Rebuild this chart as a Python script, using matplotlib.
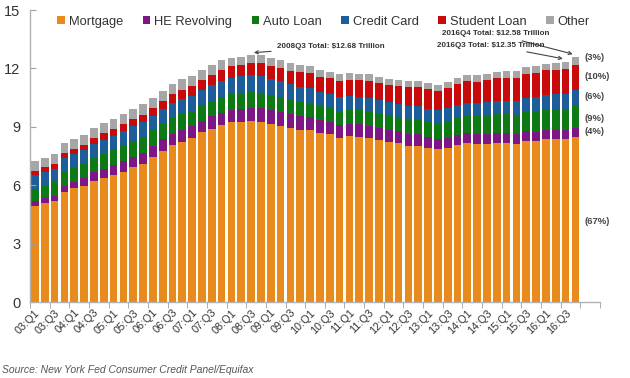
import matplotlib
matplotlib.use("Agg")
import matplotlib.pyplot as plt
import numpy as np
from matplotlib.patches import Patch

plt.rcParams["font.family"] = ["Liberation Sans", "DejaVu Sans"]

# quarters 2003Q1 .. 2016Q4, trillions of dollars
years = list(range(2003, 2017))
quarters = [f"{y % 100:02d}:Q{q}" for y in years for q in range(1, 5)]

mortgage = [4.94, 5.08, 5.18, 5.66, 5.84, 5.97, 6.21, 6.36, 6.51, 6.70, 6.91, 7.10,
            7.44, 7.76, 8.04, 8.23, 8.42, 8.71, 8.91, 9.10, 9.23, 9.27, 9.29, 9.26,
            9.14, 9.06, 8.94, 8.84, 8.83, 8.70, 8.61, 8.45, 8.52, 8.50, 8.43, 8.33,
            8.24, 8.16, 8.03, 8.03, 7.93, 7.84, 7.90, 8.05, 8.17, 8.10, 8.13, 8.17,
            8.17, 8.12, 8.26, 8.25, 8.37, 8.36, 8.35, 8.48]
he_revolving = [0.24, 0.26, 0.29, 0.32, 0.35, 0.40, 0.45, 0.48, 0.53, 0.54, 0.56, 0.57,
                0.58, 0.59, 0.60, 0.60, 0.61, 0.61, 0.62, 0.63, 0.64, 0.67, 0.69, 0.71,
                0.71, 0.71, 0.70, 0.69, 0.68, 0.67, 0.66, 0.65, 0.64, 0.63, 0.63, 0.62,
                0.61, 0.60, 0.59, 0.58, 0.56, 0.55, 0.54, 0.53, 0.53, 0.52, 0.52, 0.51,
                0.51, 0.50, 0.50, 0.49, 0.49, 0.48, 0.47, 0.47]
auto_loan = [0.64, 0.64, 0.68, 0.70, 0.72, 0.74, 0.75, 0.77, 0.78, 0.80, 0.82, 0.82,
             0.79, 0.80, 0.82, 0.82, 0.80, 0.81, 0.82, 0.82, 0.81, 0.81, 0.81, 0.79,
             0.78, 0.76, 0.75, 0.74, 0.71, 0.70, 0.71, 0.71, 0.71, 0.72, 0.73, 0.73,
             0.74, 0.75, 0.77, 0.78, 0.79, 0.81, 0.84, 0.86, 0.88, 0.91, 0.93, 0.96,
             0.97, 1.00, 1.03, 1.06, 1.07, 1.10, 1.11, 1.14]
credit_card = [0.69, 0.69, 0.69, 0.72, 0.69, 0.70, 0.70, 0.72, 0.71, 0.72, 0.73, 0.74,
               0.72, 0.74, 0.75, 0.77, 0.76, 0.78, 0.80, 0.82, 0.84, 0.85, 0.86, 0.87,
               0.84, 0.82, 0.81, 0.80, 0.76, 0.74, 0.73, 0.73, 0.70, 0.69, 0.70, 0.70,
               0.68, 0.67, 0.67, 0.68, 0.66, 0.67, 0.67, 0.68, 0.66, 0.67, 0.68, 0.70,
               0.68, 0.70, 0.71, 0.73, 0.71, 0.73, 0.75, 0.78]
student_loan = [0.24, 0.24, 0.25, 0.25, 0.26, 0.26, 0.33, 0.35, 0.36, 0.37, 0.38, 0.39,
                0.43, 0.44, 0.45, 0.48, 0.51, 0.51, 0.53, 0.55, 0.58, 0.58, 0.61, 0.64,
                0.66, 0.68, 0.69, 0.72, 0.76, 0.76, 0.78, 0.81, 0.84, 0.85, 0.87, 0.87,
                0.90, 0.91, 0.96, 0.97, 0.99, 0.99, 1.03, 1.08, 1.11, 1.12, 1.13, 1.16,
                1.19, 1.19, 1.20, 1.23, 1.26, 1.26, 1.28, 1.31]
other = [0.48, 0.49, 0.49, 0.51, 0.50, 0.51, 0.52, 0.53, 0.52, 0.52, 0.53, 0.54,
         0.52, 0.53, 0.54, 0.54, 0.50, 0.51, 0.51, 0.52, 0.42, 0.42, 0.42, 0.42,
         0.42, 0.41, 0.41, 0.40, 0.37, 0.36, 0.35, 0.35, 0.33, 0.33, 0.33, 0.33,
         0.31, 0.31, 0.32, 0.32, 0.31, 0.31, 0.32, 0.33, 0.32, 0.34, 0.33, 0.34,
         0.33, 0.34, 0.36, 0.36, 0.35, 0.37, 0.39, 0.40]

series = [
    ("Mortgage", mortgage, "#E98A1C"),
    ("HE Revolving", he_revolving, "#7E1786"),
    ("Auto Loan", auto_loan, "#0E7A16"),
    ("Credit Card", credit_card, "#1D5E9A"),
    ("Student Loan", student_loan, "#C80A0A"),
    ("Other", other, "#A6A6A6"),
]

# y position (in trillions) of the share labels on the right
share_y = [4.16, 8.78, 9.45, 10.58, 11.56, 12.58]

GRAY = "#A0A0A0"
INK = "#333333"

fig = plt.figure(figsize=(6.3, 3.78), dpi=100)
ax = fig.add_axes([30 / 630, 1 - 302 / 378, 570 / 630, 292 / 378])

x = np.arange(len(quarters))
bottom = np.zeros(len(quarters))
for name, vals, col in series:
    vals = np.array(vals)
    ax.bar(x, vals, width=0.78, bottom=bottom, color=col, linewidth=0)
    bottom += vals
total = bottom

ax.set_xlim(-0.5, len(quarters) + 1.5)
ax.set_ylim(0, 15)
ax.set_yticks([0, 3, 6, 9, 12, 15])
ax.tick_params(axis="y", direction="in", length=4, color=GRAY, labelsize=10.5,
               labelcolor=INK, pad=7)
ax.set_xticks(x[::2])
ax.set_xticklabels(quarters[::2], rotation=45, ha="right", va="top",
                   rotation_mode="anchor", fontsize=7.8, color=INK)
ax.tick_params(axis="x", length=0, pad=4)
ax.set_xticks(np.arange(-0.5, len(quarters) + 2, 2), minor=True)
ax.tick_params(axis="x", which="minor", length=4, color=GRAY, direction="out")
for s in ("top", "right"):
    ax.spines[s].set_visible(False)
for s in ("left", "bottom"):
    ax.spines[s].set_color("#B0B0B0")
    ax.spines[s].set_linewidth(1.0)

# legend
handles = [Patch(facecolor=c, edgecolor="none") for _, _, c in series]
ax.legend(handles, [n for n, _, _ in series], loc="upper center", ncol=6,
          bbox_to_anchor=(0.515, 1.02), frameon=False, fontsize=9.3,
          handlelength=0.6, handleheight=0.6, handletextpad=0.3,
          columnspacing=1.5, labelcolor=INK)

# total annotations
ann = dict(fontsize=5.8, fontweight="bold", color=INK, va="center",
           arrowprops=dict(arrowstyle="->", color="#444444", lw=0.8))
i08 = quarters.index("08:Q3")
ax.annotate(f"2008Q3 Total: ${total[i08]:.2f} Trillion", xy=(i08, total[i08] + 0.12),
            xytext=(i08 + 2.6, 13.1), ha="left", **ann)
n = len(quarters)
ax.annotate(f"2016Q4 Total: ${total[n - 1]:.2f} Trillion", xy=(n - 1, total[n - 1] + 0.12),
            xytext=(n - 3.7, 13.77), ha="right", **ann)
ax.annotate(f"2016Q3 Total: ${total[n - 2]:.2f} Trillion", xy=(n - 2, total[n - 2] + 0.12),
            xytext=(n - 4.1, 13.2), ha="right", **ann)

# shares of the latest quarter
for (name, vals, col), yy in zip(series, share_y):
    pct = round(100 * vals[-1] / total[-1])
    ax.text(n - 0.1, yy, f"({pct}%)", fontsize=6.8, fontweight="bold",
            color="#444444", ha="left", va="center")

fig.text(2 / 630, 1 - 370 / 378, "Source: New York Fed Consumer Credit Panel/Equifax",
         fontsize=7.5, style="italic", color="#555555", ha="left", va="center")

fig.savefig("out.png", dpi=100, facecolor="white")
